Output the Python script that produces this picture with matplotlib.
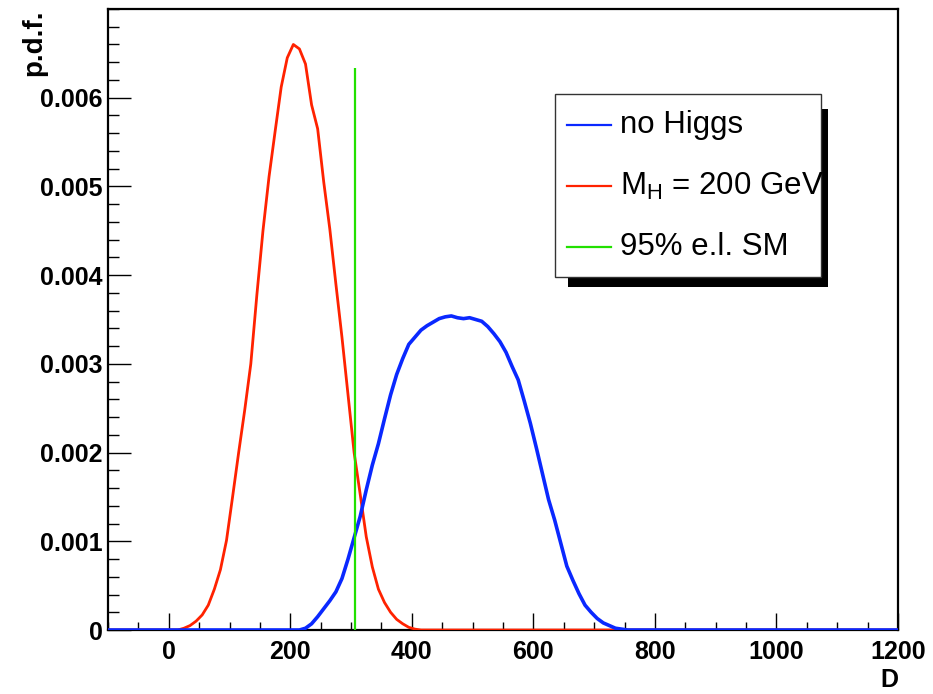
import numpy as np
import matplotlib
matplotlib.use("Agg")
import matplotlib.pyplot as plt
from matplotlib.patches import Rectangle
from matplotlib.lines import Line2D

# ---------------- data ----------------
bin_width = 10
x_min, x_max = -100, 1200

# M_H = 200 GeV histogram, bin centres starting at D = 25
red_start = 25
red_values = [0.00002, 0.00005, 0.00010, 0.00017, 0.00028, 0.00046, 0.00068, 0.00101, 0.00150, 0.00200,
              0.00248, 0.00300, 0.00378, 0.00450, 0.00511, 0.00562, 0.00612, 0.00645, 0.00660, 0.00655,
              0.00638, 0.00592, 0.00565, 0.00505, 0.00452, 0.00390, 0.00330, 0.00265, 0.00200, 0.00153,
              0.00105, 0.00071, 0.00046, 0.00031, 0.00020, 0.00012, 0.00007, 0.00003, 0.00001]

# no Higgs histogram, bin centres starting at D = 225
blue_start = 225
blue_values = [0.00002, 0.00007, 0.00015, 0.00024, 0.00033, 0.00043, 0.00058, 0.00080, 0.00104, 0.00128,
               0.00158, 0.00186, 0.00210, 0.00238, 0.00265, 0.00288, 0.00306, 0.00322, 0.00330, 0.00338,
               0.00343, 0.00347, 0.00351, 0.00353, 0.00354, 0.00352, 0.00351, 0.00352, 0.00350, 0.00348,
               0.00342, 0.00334, 0.00325, 0.00313, 0.00297, 0.00282, 0.00258, 0.00233, 0.00205, 0.00176,
               0.00147, 0.00124, 0.00098, 0.00072, 0.00056, 0.00041, 0.00028, 0.00020, 0.00013, 0.00008,
               0.00005, 0.00002, 0.00001]

# 95% exclusion limit line
cl_x = 307
cl_top = 0.00634

x_ticks = [0, 200, 400, 600, 800, 1000, 1200]
y_ticks = [0, 0.001, 0.002, 0.003, 0.004, 0.005, 0.006]
y_tick_labels = ["0", "0.001", "0.002", "0.003", "0.004", "0.005", "0.006"]
legend_labels = ["no Higgs", r"$\mathrm{M_{H}}$ = 200 GeV", "95% e.l. SM"]

# ---------------- build full-range curves (zero outside) ----------------
centers = np.arange(x_min + bin_width / 2, x_max, bin_width)
red_full = np.zeros(len(centers))
i0 = int((red_start - centers[0]) // bin_width)
red_full[i0:i0 + len(red_values)] = red_values
blue_full = np.zeros(len(centers))
j0 = int((blue_start - centers[0]) // bin_width)
blue_full[j0:j0 + len(blue_values)] = blue_values
xs = np.concatenate([[x_min], centers, [x_max]])
red_y = np.concatenate([[0], red_full, [0]])
blue_y = np.concatenate([[0], blue_full, [0]])

# ---------------- style ----------------
plt.rcParams['font.family'] = ['Liberation Sans', 'DejaVu Sans']
plt.rcParams['mathtext.fontset'] = 'custom'
plt.rcParams['mathtext.rm'] = 'Liberation Sans'

RED = '#ff2200'
BLUE = '#0a28ff'
GREEN = '#22e000'

W, H = 933, 694
fig = plt.figure(figsize=(W / 100, H / 100), dpi=100)
ax = fig.add_axes([108 / W, 1 - 630 / H, (898 - 108) / W, (630 - 9) / H])

ax.plot(xs, red_y, color=RED, linewidth=2.0, zorder=3)
ax.plot(xs, blue_y, color=BLUE, linewidth=2.6, zorder=4)
ax.vlines(cl_x, 0, cl_top, color=GREEN, linewidth=1.6, zorder=5)

ax.set_xlim(x_min, x_max)
ax.set_ylim(0, 0.0070)

tick_font = dict(family=['Liberation Sans', 'DejaVu Sans'], weight='bold', size=18)
ax.set_xticks(x_ticks)
ax.set_xticklabels([str(t) for t in x_ticks], **tick_font)
ax.set_xticks(np.arange(-100, 1201, 50), minor=True)
ax.set_yticks(y_ticks)
ax.set_yticklabels(y_tick_labels, **tick_font)
ax.set_yticks(np.arange(0, 0.00701, 0.0002), minor=True)

ax.tick_params(axis='x', which='major', direction='in', length=12, width=1, pad=7)
ax.tick_params(axis='x', which='minor', direction='in', length=6, width=1)
ax.tick_params(axis='y', which='major', direction='in', length=16.5, width=1, pad=4)
ax.tick_params(axis='y', which='minor', direction='in', length=8, width=1)
for s in ax.spines.values():
    s.set_linewidth(1.6)

fig.text(898 / W, 1 - 692 / H, "D", ha='right', va='bottom', **tick_font)
fig.text(34 / W, 1 - 9 / H, "p.d.f.", ha='center', va='top', rotation=90,
         family=['Liberation Sans', 'DejaVu Sans'], weight='bold', size=20)

# ---------------- legend (ROOT style, with shadow) ----------------
def fx(px):
    return px / W

def fy(py):
    return 1 - py / H

bx0, by0, bx1, by1 = 555, 94, 821, 277
sx0, sy0, sx1, sy1 = 568, 109, 828, 287
fig.patches.append(Rectangle((fx(sx0), fy(sy1)), fx(sx1 - sx0), (sy1 - sy0) / H,
                             transform=fig.transFigure, facecolor='black', edgecolor='black',
                             linewidth=0, zorder=10))
fig.patches.append(Rectangle((fx(bx0), fy(by1)), fx(bx1 - bx0), (by1 - by0) / H,
                             transform=fig.transFigure, facecolor='white', edgecolor='#333333',
                             linewidth=1.0, zorder=11))
entry_y = [125, 186, 247]
entry_col = [BLUE, RED, GREEN]
for yy, col, lab in zip(entry_y, entry_col, legend_labels):
    fig.lines.append(Line2D([fx(567), fx(611)], [fy(yy), fy(yy)], transform=fig.transFigure,
                            color=col, linewidth=1.6, zorder=12))
    fig.text(fx(620), fy(yy), lab, ha='left', va='center', size=22.5, zorder=13,
             family=['Liberation Sans', 'DejaVu Sans'])

fig.savefig("out.png", dpi=100)
